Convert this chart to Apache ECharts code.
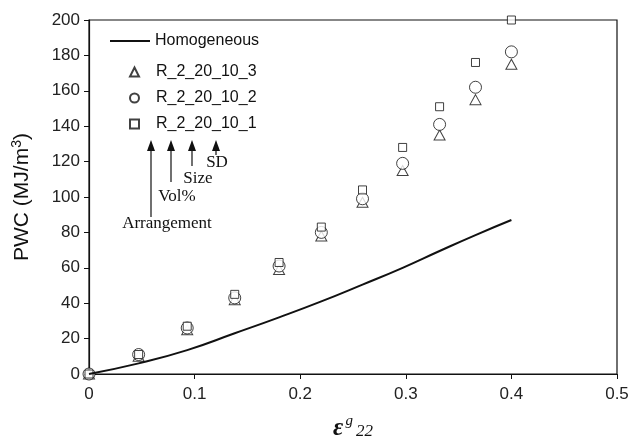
<!DOCTYPE html>
<html>
<head>
<meta charset="utf-8">
<script src="https://cdn.jsdelivr.net/npm/echarts@6/dist/echarts.min.js"></script>
<style>
html, body { margin: 0; padding: 0; background: #fff; }
#main { width: 631px; height: 438px; }
</style>
</head>
<body>
<div id="main"></div>
<script>
// strain values (same for every series)
var strain = [0, 0.047, 0.093, 0.138, 0.18, 0.22, 0.259, 0.297, 0.332, 0.366, 0.4];
var homogeneous = [0, 6, 13.5, 23, 32, 41, 50.5, 60, 69.5, 78.5, 87];
var r3 = [0, 10, 25, 42, 59, 78, 97, 115, 135, 155, 175];
var r2 = [0, 11, 26, 43, 61, 80, 99, 119, 141, 162, 182];
var r1 = [0, 11, 27, 45, 63, 83, 104, 128, 151, 176, 200];

function pairs(ys) {
    return strain.map(function (x, i) { return [x, ys[i]]; });
}

var chart = echarts.init(document.getElementById('main'));

var markerStyle = {
    color: '#fff',
    borderColor: '#111',
    borderWidth: 1
};
var legendText = { fontFamily: 'Liberation Sans, Arial', fontSize: 16, color: '#111' };

// arrows under the legend: [x, tipY, bottomY]
var arrows = [[151, 140, 217], [171, 140, 182], [192, 140, 166], [216, 140, 155]];
var graphics = [];
arrows.forEach(function (a) {
    graphics.push({
        type: 'line',
        shape: { x1: a[0], y1: a[1] + 8, x2: a[0], y2: a[2] },
        style: { stroke: '#111', lineWidth: 1.2 }
    });
    graphics.push({
        type: 'polygon',
        shape: { points: [[a[0], a[1]], [a[0] - 4, a[1] + 11], [a[0] + 4, a[1] + 11]] },
        style: { fill: '#111' }
    });
});
var notes = [['Arrangement', 167, 224], ['Vol%', 177, 197], ['Size', 198, 179], ['SD', 217, 163]];
notes.forEach(function (n) {
    graphics.push({
        type: 'text',
        x: n[1], y: n[2],
        style: {
            text: n[0], fill: '#111',
            font: '17px "Liberation Serif", serif',
            align: 'center', verticalAlign: 'middle'
        }
    });
});

var option = {
    animation: false,
    grid: {
        left: 89, right: 14, top: 20, bottom: 64,
        outerBoundsMode: 'none',
        show: true, borderColor: '#111', borderWidth: 1.2
    },
    legend: [{
        orient: 'vertical',
        left: 105, top: 28,
        itemWidth: 40, itemHeight: 2,
        textStyle: legendText,
        data: [{ name: 'Homogeneous', icon: 'rect' }]
    }, {
        orient: 'vertical',
        left: 124, top: 59,
        itemWidth: 9, itemHeight: 9, itemGap: 10,
        textStyle: Object.assign({ padding: [0, 0, 0, 12] }, legendText),
        data: ['R_2_20_10_3', 'R_2_20_10_2', 'R_2_20_10_1']
    }],
    xAxis: {
        type: 'value', min: 0, max: 0.5, interval: 0.1,
        name: '{e|ε}{g|g}{s|22}',
        nameLocation: 'middle', nameGap: 40,
        nameTextStyle: {
            rich: {
                e: { fontFamily: 'Liberation Serif', fontStyle: 'italic', fontWeight: 'bold', fontSize: 25, color: '#111' },
                g: { fontFamily: 'Liberation Serif', fontStyle: 'italic', fontSize: 15, color: '#111', padding: [0, 3, 14, 2] },
                s: { fontFamily: 'Liberation Serif', fontStyle: 'italic', fontSize: 17, color: '#111', padding: [6, 0, 0, 0] }
            }
        },
        axisLine: { lineStyle: { color: '#111', width: 1.2 } },
        axisTick: { inside: false, length: 5, lineStyle: { color: '#111' } },
        axisLabel: { fontFamily: 'Liberation Sans, Arial', fontSize: 17, color: '#222', margin: 12 },
        splitLine: { show: false }
    },
    yAxis: {
        type: 'value', min: 0, max: 200, interval: 20,
        name: 'PWC (MJ/m{sup|3})',
        nameLocation: 'middle', nameGap: 54, nameRotate: 90,
        nameTextStyle: {
            fontFamily: 'Liberation Sans, Arial', fontSize: 21, color: '#111',
            rich: { sup: { fontFamily: 'Liberation Sans, Arial', fontSize: 14, color: '#111', padding: [0, 0, 11, 0] } }
        },
        axisLine: { lineStyle: { color: '#111', width: 1.2 } },
        axisTick: { inside: false, length: 5, lineStyle: { color: '#111' } },
        axisLabel: { fontFamily: 'Liberation Sans, Arial', fontSize: 17, color: '#222', margin: 9 },
        splitLine: { show: false }
    },
    series: [
        {
            name: 'Homogeneous', type: 'line', data: pairs(homogeneous),
            symbol: 'none', smooth: true,
            lineStyle: { color: '#111', width: 2 },
            itemStyle: { color: '#111' }
        },
        {
            name: 'R_2_20_10_3', type: 'scatter', data: pairs(r3),
            symbol: 'triangle', symbolSize: [11, 10], itemStyle: markerStyle
        },
        {
            name: 'R_2_20_10_2', type: 'scatter', data: pairs(r2),
            symbol: 'circle', symbolSize: 12, itemStyle: markerStyle
        },
        {
            name: 'R_2_20_10_1', type: 'scatter', data: pairs(r1),
            symbol: 'rect', symbolSize: 8, itemStyle: markerStyle
        }
    ],
    graphic: graphics
};
chart.setOption(option);
</script>
</body>
</html>
